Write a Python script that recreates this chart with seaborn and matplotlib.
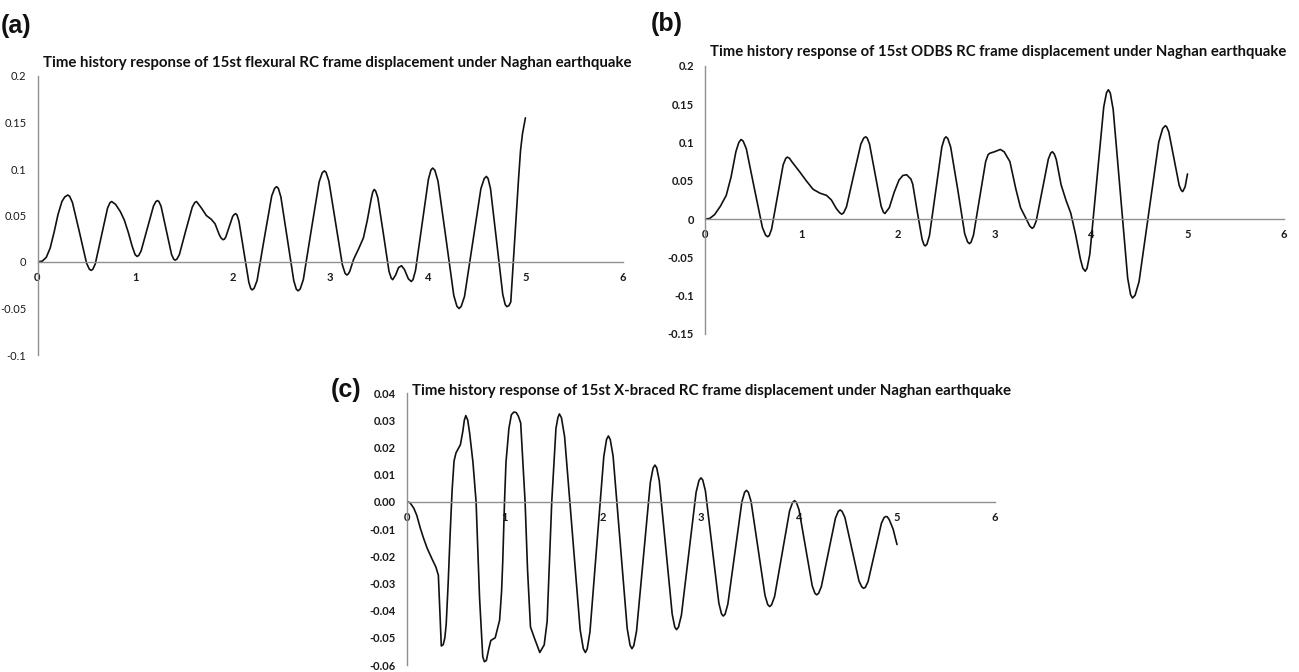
import matplotlib
matplotlib.use("Agg")
import matplotlib.pyplot as plt
import seaborn as sns
import pandas as pd

# ---- displacement time histories (time in s, displacement in m) ----
t_a = [0.00, 0.05, 0.09, 0.13, 0.17, 0.21, 0.25, 0.28, 0.31,
       0.329, 0.358, 0.43, 0.502, 0.531, 0.55,
       0.567, 0.592, 0.655, 0.718, 0.743, 0.76,
       0.80, 0.85, 0.89, 0.93, 0.97, 1.00, 1.02,
       1.037, 1.062, 1.125, 1.188, 1.213, 1.23,
       1.244, 1.266, 1.32, 1.374, 1.396, 1.41,
       1.428, 1.454, 1.52, 1.586, 1.612, 1.63,
       1.68, 1.73, 1.78, 1.82, 1.86, 1.88, 1.90,
       1.915, 1.93, 1.965, 2.00, 2.015, 2.03,
       2.044, 2.064, 2.115, 2.166, 2.186, 2.20,
       2.22, 2.25, 2.325, 2.40, 2.43, 2.45,
       2.468, 2.494, 2.56, 2.626, 2.652, 2.67,
       2.692, 2.724, 2.805, 2.886, 2.918, 2.94,
       2.958, 2.986, 3.055, 3.124, 3.152, 3.17,
       3.185, 3.20, 3.24, 3.29, 3.34, 3.38, 3.42, 3.435, 3.45,
       3.465, 3.488, 3.545, 3.602, 3.625, 3.64,
       3.67, 3.70, 3.73, 3.76, 3.80, 3.83,
       3.848, 3.874, 3.94, 4.006, 4.032, 4.05,
       4.072, 4.104, 4.185, 4.266, 4.298, 4.32,
       4.342, 4.376, 4.46, 4.544, 4.578, 4.60,
       4.617, 4.642, 4.705, 4.768, 4.793, 4.81,
       4.83, 4.85, 4.87, 4.90, 4.93, 4.95, 4.97, 5.00]
d_a = [0.000, 0.001, 0.005, 0.015, 0.032, 0.051, 0.065, 0.070, 0.072,
       0.0707, 0.064, 0.032, -0.001, -0.0077, -0.009,
       -0.0078, -0.002, 0.028, 0.058, 0.0638, 0.065,
       0.062, 0.054, 0.045, 0.032, 0.017, 0.008, 0.006,
       0.007, 0.012, 0.036, 0.060, 0.065, 0.066,
       0.065, 0.060, 0.034, 0.008, 0.003, 0.002,
       0.003, 0.008, 0.034, 0.059, 0.064, 0.065,
       0.058, 0.050, 0.046, 0.041, 0.030, 0.026, 0.024,
       0.0245, 0.027, 0.038, 0.049, 0.051, 0.052,
       0.0507, 0.044, 0.011, -0.022, -0.0287, -0.030,
       -0.0282, -0.020, 0.026, 0.071, 0.0792, 0.081,
       0.0792, 0.070, 0.025, -0.020, -0.0292, -0.031,
       -0.029, -0.019, 0.034, 0.086, 0.096, 0.098,
       0.0962, 0.087, 0.042, -0.003, -0.0122, -0.014,
       -0.0128, -0.010, 0.003, 0.014, 0.026, 0.045, 0.068, 0.075, 0.078,
       0.0764, 0.069, 0.030, -0.010, -0.0174, -0.019,
       -0.014, -0.006, -0.004, -0.008, -0.018, -0.021,
       -0.019, -0.009, 0.040, 0.089, 0.099, 0.101,
       0.0986, 0.087, 0.026, -0.036, -0.0476, -0.050,
       -0.0477, -0.037, 0.021, 0.079, 0.0897, 0.092,
       0.0898, 0.079, 0.022, -0.035, -0.0458, -0.048,
       -0.047, -0.043, -0.010, 0.040, 0.090, 0.120, 0.138, 0.155]

t_b = [0.00, 0.05, 0.10, 0.16, 0.22, 0.27, 0.32, 0.35, 0.373,
       0.395, 0.428, 0.51, 0.595, 0.628, 0.65,
       0.666, 0.69, 0.75, 0.81, 0.837, 0.853,
       0.875, 0.90, 0.98, 1.05, 1.12, 1.19, 1.26, 1.31, 1.36, 1.395, 1.416,
       1.436, 1.466, 1.54, 1.615, 1.645, 1.665,
       1.681, 1.705, 1.765, 1.825, 1.849, 1.865,
       1.91, 1.96, 2.01, 2.05, 2.09, 2.12,
       2.133, 2.153, 2.20, 2.25, 2.27, 2.283,
       2.30, 2.326, 2.39, 2.454, 2.48, 2.497,
       2.516, 2.546, 2.62, 2.691, 2.721, 2.74,
       2.757, 2.782, 2.845, 2.908, 2.933, 2.95,
       3.00, 3.06, 3.10,
       3.16, 3.22, 3.27, 3.33, 3.365, 3.39,
       3.407, 3.432, 3.495, 3.558, 3.583, 3.60,
       3.62, 3.64, 3.69, 3.74, 3.79, 3.84, 3.89, 3.915, 3.94,
       3.959, 3.988, 4.06, 4.132, 4.161, 4.18,
       4.20, 4.23, 4.305, 4.38, 4.41, 4.43,
       4.457, 4.498, 4.60, 4.702, 4.743, 4.77,
       4.784, 4.806, 4.86, 4.914, 4.936, 4.95, 4.975, 5.00]
d_b = [0.000, 0.001, 0.006, 0.017, 0.031, 0.055, 0.088, 0.100, 0.104,
       0.102, 0.092, 0.041, -0.011, -0.021, -0.023,
       -0.0213, -0.013, 0.029, 0.071, 0.0794, 0.081,
       0.0795, 0.075, 0.062, 0.050, 0.039, 0.034, 0.031, 0.025, 0.014, 0.0085, 0.0065,
       0.0081, 0.016, 0.057, 0.098, 0.1059, 0.1075,
       0.1059, 0.098, 0.0575, 0.017, 0.009, 0.0074,
       0.015, 0.035, 0.051, 0.057, 0.058, 0.054,
       0.0526, 0.0455, 0.0095, -0.0265, -0.0336, -0.035,
       -0.0327, -0.0215, 0.036, 0.094, 0.105, 0.1075,
       0.1053, 0.094, 0.038, -0.019, -0.0297, -0.032,
       -0.0301, -0.021, 0.027, 0.075, 0.0841, 0.086,
       0.088, 0.091, 0.088,
       0.075, 0.040, 0.015, 0.000, -0.009, -0.012,
       -0.0104, -0.0025, 0.038, 0.0785, 0.0864, 0.088,
       0.085, 0.078, 0.045, 0.025, 0.008, -0.020, -0.052, -0.064, -0.068,
       -0.0642, -0.0455, 0.0505, 0.1465, 0.1652, 0.169,
       0.1646, 0.143, 0.033, -0.077, -0.0986, -0.103,
       -0.0994, -0.0816, 0.0095, 0.1006, 0.1184, 0.122,
       0.1206, 0.114, 0.079, 0.044, 0.0374, 0.036, 0.042, 0.059]

t_c = [0.00, 0.03, 0.07, 0.10, 0.136, 0.17, 0.205, 0.25, 0.295, 0.32, 0.335, 0.35, 0.37, 0.386,
       0.40, 0.42, 0.44, 0.46, 0.48, 0.50, 0.545, 0.57, 0.585, 0.60,
       0.62, 0.64, 0.673, 0.705, 0.74, 0.773, 0.79, 0.81, 0.835, 0.855, 0.90, 0.945, 0.965, 0.977,
       0.995, 1.01, 1.04, 1.065, 1.09, 1.115, 1.136, 1.16,
       1.18, 1.205, 1.23, 1.26, 1.295, 1.33, 1.355, 1.40,
       1.43, 1.477, 1.52, 1.54, 1.555,
       1.576, 1.608, 1.6875, 1.767, 1.799, 1.82,
       1.839, 1.867, 1.9375, 2.008, 2.036, 2.055,
       2.074, 2.103, 2.175, 2.247, 2.276, 2.295,
       2.314, 2.342, 2.4125, 2.483, 2.511, 2.53,
       2.548, 2.574, 2.64, 2.706, 2.732, 2.75,
       2.77, 2.80, 2.875, 2.95, 2.98, 3.00,
       3.018, 3.045, 3.1135, 3.182, 3.209, 3.227,
       3.246, 3.274, 3.3455, 3.417, 3.445, 3.464,
       3.483, 3.511, 3.582, 3.653, 3.681, 3.70,
       3.72, 3.751, 3.8275, 3.904, 3.935, 3.955,
       3.973, 4.00, 4.0675, 4.135, 4.162, 4.18,
       4.199, 4.228, 4.30, 4.372, 4.401, 4.42,
       4.439, 4.468, 4.54, 4.612, 4.641, 4.66,
       4.678, 4.705, 4.773, 4.841, 4.868, 4.886,
       4.90, 4.92, 4.96, 5.00]
d_c = [0.0, -0.0003, -0.0024, -0.005, -0.0097, -0.0135, -0.017, -0.0206, -0.024, -0.027, -0.040, -0.053, -0.0525, -0.050,
       -0.045, -0.030, -0.012, 0.004, 0.015, 0.018, 0.021, 0.026, 0.030, 0.0317,
       0.030, 0.025, 0.0145, 0.0, -0.035, -0.057, -0.0588, -0.0583, -0.054, -0.051, -0.050, -0.0435, -0.033, -0.022,
       0.0, 0.0145, 0.027, 0.032, 0.033, 0.0328, 0.0315, 0.029,
       0.016, 0.0, -0.025, -0.046, -0.0496, -0.053, -0.0554, -0.0526,
       -0.044, 0.0, 0.027, 0.031, 0.0323,
       0.0309, 0.024, -0.0116, -0.0471, -0.0540, -0.0554,
       -0.0541, -0.0478, -0.0156, 0.0166, 0.0229, 0.0242,
       0.0229, 0.0168, -0.0149, -0.0466, -0.0527, -0.054,
       -0.0529, -0.0476, -0.0203, 0.0071, 0.0124, 0.0135,
       0.0125, 0.0078, -0.0168, -0.0413, -0.046, -0.047,
       -0.0461, -0.0417, -0.0191, 0.0035, 0.0079, 0.0088,
       0.008, 0.004, -0.0166, -0.0372, -0.0412, -0.042,
       -0.0413, -0.0376, -0.0189, 0.0, 0.0035, 0.0042,
       0.0035, 0.0001, -0.0172, -0.0344, -0.0378, -0.0385,
       -0.0379, -0.0348, -0.0191, -0.0033, -0.0002, 0.0004,
       -0.0002, -0.0029, -0.0169, -0.0309, -0.0336, -0.0342,
       -0.0337, -0.0312, -0.0186, -0.006, -0.0035, -0.003,
       -0.0035, -0.0057, -0.0174, -0.0291, -0.0313, -0.0318,
       -0.0314, -0.0293, -0.0186, -0.0079, -0.0058, -0.0054,
       -0.0055, -0.0065, -0.010, -0.0157]

# ---- axis ticks and labels ----
x_ticks = [0, 1, 2, 3, 4, 5, 6]
x_ticklabels = ["0", "1", "2", "3", "4", "5", "6"]

y_ticks_a = [0.2, 0.15, 0.1, 0.05, 0, -0.05, -0.1]
y_labels_a = ["0.2", "0.15", "0.1", "0.05", "0", "-0.05", "-0.1"]
y_ticks_b = [0.2, 0.15, 0.1, 0.05, 0, -0.05, -0.1, -0.15]
y_labels_b = ["0.2", "0.15", "0.1", "0.05", "0", "-0.05", "-0.1", "-0.15"]
y_ticks_c = [0.04, 0.03, 0.02, 0.01, 0.0, -0.01, -0.02, -0.03, -0.04, -0.05, -0.06]
y_labels_c = ["0.04", "0.03", "0.02", "0.01", "0.00", "-0.01", "-0.02",
              "-0.03", "-0.04", "-0.05", "-0.06"]

titles = [
    "Time history response of 15st flexural RC frame displacement under Naghan earthquake",
    "Time history response of 15st ODBS RC frame displacement under Naghan earthquake",
    "Time history response of 15st X-braced RC frame displacement under Naghan earthquake",
]
panel_tags = ["(a)", "(b)", "(c)"]

sns.set_style("white")
plt.rcParams["font.family"] = ["Lato", "DejaVu Sans"]

W, H = 1299, 672
fig = plt.figure(figsize=(W / 100, H / 100), dpi=100)
fig.patch.set_facecolor("white")

AXIS_GREY = "#8f8f8f"


def px_rect(left, top, right, bottom):
    return [left / W, 1 - bottom / H, (right - left) / W, (bottom - top) / H]


def draw_panel(rect, t, d, ylim, yticks, ylabels, y_bold):
    ax = fig.add_axes(rect)
    ax.patch.set_alpha(0)
    df = pd.DataFrame({"time": t, "disp": d})
    sns.lineplot(data=df, x="time", y="disp", ax=ax, sort=False,
                 estimator=None, color="#111111", linewidth=1.2,
                 solid_joinstyle="round", solid_capstyle="round")
    ax.set_xlim(0, 6)
    ax.set_ylim(*ylim)
    for s in ("top", "right"):
        ax.spines[s].set_visible(False)
    ax.spines["bottom"].set_position(("data", 0))
    for s in ("left", "bottom"):
        ax.spines[s].set_color(AXIS_GREY)
        ax.spines[s].set_linewidth(1.0)
    ax.set_xticks(x_ticks)
    ax.set_xticklabels(x_ticklabels, fontweight="bold")
    ax.set_yticks(yticks)
    ax.set_yticklabels(ylabels, fontweight="bold" if y_bold else "normal")
    ax.tick_params(axis="both", direction="out", length=3, width=0.9,
                   color=AXIS_GREY, labelsize=8, labelcolor="#1a1a1a")
    ax.tick_params(axis="x", pad=4)
    ax.tick_params(axis="y", pad=5)
    ax.set_xlabel("")
    ax.set_ylabel("")
    ax.grid(False)
    return ax


draw_panel(px_rect(37.5, 76, 623, 355), t_a, d_a, (-0.1, 0.2),
           y_ticks_a, y_labels_a, False)
draw_panel(px_rect(705, 66, 1284, 334), t_b, d_b, (-0.15, 0.2),
           y_ticks_b, y_labels_b, True)
draw_panel(px_rect(407, 393, 995, 665), t_c, d_c, (-0.06, 0.04),
           y_ticks_c, y_labels_c, True)

# titles
title_pos = [(43, 63), (710, 52), (412, 391)]
title_sizes = [10.8, 10.7, 10.8]
for (x, y), txt, fs in zip(title_pos, titles, title_sizes):
    fig.text(x / W, 1 - y / H, txt, ha="left", va="center",
             fontsize=fs, fontweight="bold", color="#111111")

# panel tags
tag_pos = [(1, 26), (651, 24), (331, 390)]
for (x, y), txt in zip(tag_pos, panel_tags):
    fig.text(x / W, 1 - y / H, txt, ha="left", va="center",
             fontsize=18, fontweight="bold", color="#111111",
             family=["Liberation Sans", "DejaVu Sans"])

fig.savefig("out.png", dpi=100, facecolor="white")
